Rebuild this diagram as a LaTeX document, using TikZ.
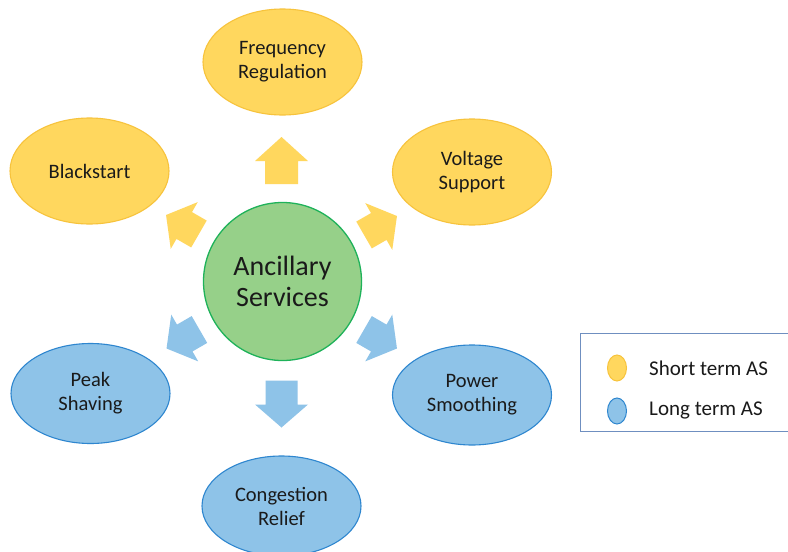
\documentclass[tikz,border=0pt]{standalone}
\usepackage{fontspec}
\setmainfont{Carlito}
\usetikzlibrary{shapes.geometric}
\definecolor{yelfill}{HTML}{FFD75E}
\definecolor{yeldraw}{HTML}{F7C33C}
\definecolor{bluefill}{HTML}{8EC3E8}
\definecolor{bluedraw}{HTML}{2E86CF}
\definecolor{grnfill}{HTML}{96D089}
\definecolor{grndraw}{HTML}{1FB25A}
\definecolor{legdraw}{HTML}{6F8FC0}
\definecolor{txt}{HTML}{1A1A1A}
\tikzset{
  svc/.style={ellipse, minimum width=159pt, inner sep=0pt, align=center,
    line width=1.1pt, text=txt, font=\fontsize{20.5}{24}\selectfont},
  shortas/.style={svc, fill=yelfill, draw=yeldraw, minimum height=106pt},
  longas/.style={svc, fill=bluefill, draw=bluedraw, minimum height=100pt},
  hub/.style={circle, minimum size=158pt, inner sep=0pt, align=center,
    fill=grnfill, draw=grndraw, line width=1.3pt, text=txt,
    font=\fontsize{28}{31}\selectfont},
  legmark/.style={ellipse, minimum width=19pt, minimum height=26pt, inner sep=0pt, line width=1pt},
  legtext/.style={anchor=west, inner sep=0pt, text=txt, font=\fontsize{21}{24}\selectfont},
}
% block arrow: #1 centre, #2 angle, #3 length, #4 head length, #5 head width, #6 shaft width, #7 colour
\newcommand\blockarr[7]{%
  \fill[#7, shift={#1}, rotate=#2]
    (-#3/2,-#6/2) -- (#3/2-#4,-#6/2) -- (#3/2-#4,-#5/2) -- (#3/2,0)
    -- (#3/2-#4,#5/2) -- (#3/2-#4,#6/2) -- (-#3/2,#6/2) -- cycle;}
\begin{document}
\begin{tikzpicture}[x=1pt,y=-1pt]
\useasboundingbox (0,0) rectangle (788,552);
\fill[white] (0,0) rectangle (788,552);
\begin{scope}
\clip (0,0) rectangle (788,552);
% arrows
\blockarr{(281.5,160.5)}{90}{47}{24}{53}{33}{yelfill}
\blockarr{(182.5,224.5)}{150}{38}{21}{54}{31}{yelfill}
\blockarr{(380.5,225.5)}{30}{38}{21}{54}{31}{yelfill}
\blockarr{(183,339)}{210}{38}{21}{54}{31}{bluefill}
\blockarr{(380.5,339)}{-30}{38}{21}{54}{31}{bluefill}
\blockarr{(281.5,404)}{270}{47}{23}{53}{32}{bluefill}
% hub
\node[hub] (as) at (282.5,281.5) {Ancillary\\Services};
% services
\node[shortas] (fr) at (282.5,62) {Frequency\\Regulation};
\node[shortas] (bs) at (89.5,171) {Blackstart};
\node[shortas] (vs) at (472,172) {Voltage\\Support};
\node[longas] (ps) at (90.5,393.5) {Peak\\Shaving};
\node[longas] (pw) at (472,395) {Power\\Smoothing};
\node[longas] (cr) at (281.5,506) {Congestion\\Relief};
% legend
\draw[legdraw, line width=0.9pt] (790,333) -- (580.5,333) -- (580.5,431.5) -- (790,431.5);
\node[legmark, fill=yelfill, draw=yeldraw] (ls) at (617,368) {};
\node[legmark, fill=bluefill, draw=bluedraw] (ll) at (617,411) {};
\node[legtext] (lst) at (649,368) {Short term AS};
\node[legtext] (llt) at (649,410) {Long term AS};
\end{scope}
\end{tikzpicture}
\end{document}
